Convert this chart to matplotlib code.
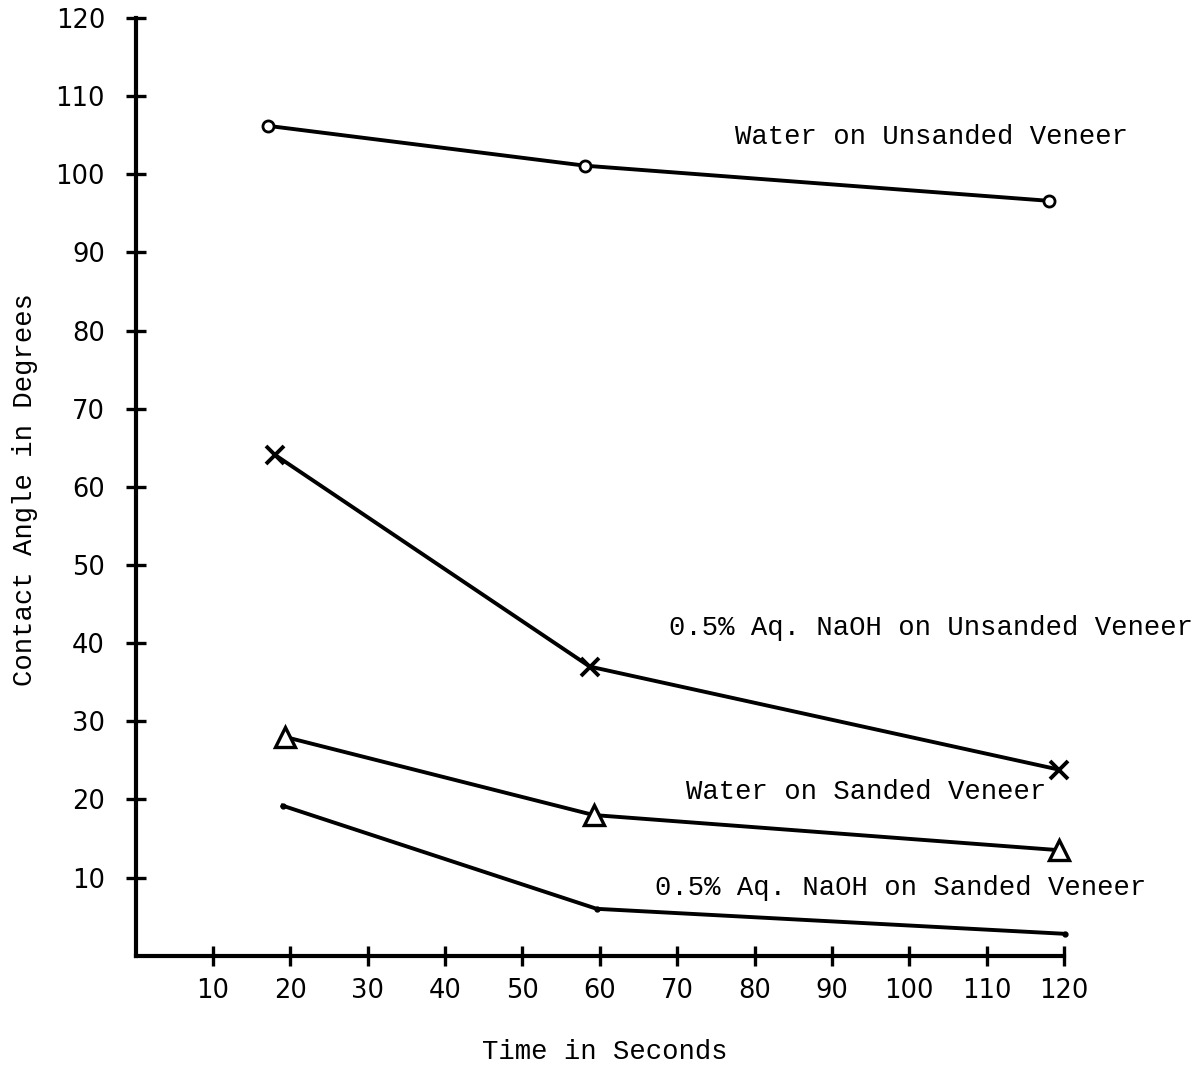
import matplotlib
matplotlib.use("Agg")
import matplotlib.pyplot as plt

# Data
water_unsanded_x = [17.1, 58.1, 118.1]
water_unsanded_y = [106.2, 101.1, 96.6]
naoh_unsanded_x = [18.0, 58.7, 119.4]
naoh_unsanded_y = [64.1, 37.0, 23.8]
water_sanded_x = [19.3, 59.2, 119.4]
water_sanded_y = [28.0, 18.0, 13.5]
naoh_sanded_x = [19.0, 59.6, 120.1]
naoh_sanded_y = [19.2, 6.0, 2.8]

x_ticks = [10, 20, 30, 40, 50, 60, 70, 80, 90, 100, 110, 120]
y_ticks = [10, 20, 30, 40, 50, 60, 70, 80, 90, 100, 110, 120]

labels = ["Water on Unsanded Veneer",
          "0.5% Aq. NaOH on Unsanded Veneer",
          "Water on Sanded Veneer",
          "0.5% Aq. NaOH on Sanded Veneer"]
label_pos = [(77.5, 104.8), (68.9, 42.0), (71.2, 21.0), (67.1, 8.7)]

W, H = 1198, 1065
fig = plt.figure(figsize=(W / 100, H / 100), dpi=100)
ax = fig.add_axes([135.6 / W, 1 - 955.7 / H, (1064 - 135.6) / W, (955.7 - 18) / H])

mono = "Liberation Mono"
lw = 2.8

ax.plot(water_unsanded_x, water_unsanded_y, color="black", lw=lw, marker="o",
        ms=8, mfc="white", mew=2.0, clip_on=False)
ax.plot(naoh_unsanded_x, naoh_unsanded_y, color="black", lw=lw, marker="x",
        ms=13, mew=2.8, clip_on=False)
ax.plot(water_sanded_x, water_sanded_y, color="black", lw=lw, marker="^",
        ms=14, mfc="white", mew=2.4, clip_on=False)
ax.plot(naoh_sanded_x, naoh_sanded_y, color="black", lw=lw, marker="o",
        ms=3.5, clip_on=False)

for txt, (lx, ly) in zip(labels, label_pos):
    ax.text(lx, ly, txt, family=mono, fontsize=19.6, ha="left", va="center",
            clip_on=False)

ax.set_xlim(0, 120)
ax.set_ylim(0, 120)
ax.set_xticks(x_ticks)
ax.set_yticks(y_ticks)
ax.set_xticklabels([str(v) for v in x_ticks])
ax.set_yticklabels([str(v) for v in y_ticks])
ax.tick_params(direction="inout", length=14, width=2.4, labelsize=18.5)
ax.tick_params(axis="y", pad=15)
ax.tick_params(axis="x", pad=9)
for s in ["top", "right"]:
    ax.spines[s].set_visible(False)
for s in ["left", "bottom"]:
    ax.spines[s].set_linewidth(3.0)

fig.text(25 / W, 1 - 490 / H, "Contact Angle in Degrees", family=mono,
         fontsize=19.6, rotation=90, ha="center", va="center")
fig.text(605 / W, 1 - 1052 / H, "Time in Seconds", family=mono,
         fontsize=19.6, ha="center", va="center")

fig.savefig("out.png", dpi=100, facecolor="white")
